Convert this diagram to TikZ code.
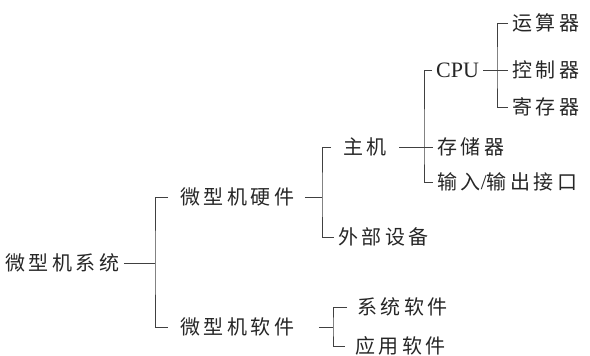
\documentclass[tikz,border=0pt]{standalone}
\usepackage{fontspec}
\setmainfont{Liberation Serif}
\newfontfamily\cjk[LetterSpace=18]{Noto Sans CJK SC}
\tikzset{
  lbl/.style={anchor=west, inner xsep=4pt, inner ysep=0pt, text=black!85,
    font=\cjk\fontsize{20}{20}\selectfont},
  conn/.style={draw=black!75, line width=0.7pt}
}
\begin{document}
\begin{tikzpicture}[x=1pt,y=-1pt]
\useasboundingbox (0,0) rectangle (590,356);
% nodes
\node[lbl] (root) at (1,263) {微型机系统};
\node[lbl] (hw)   at (176,197) {微型机硬件};
\node[lbl] (sw)   at (176,327) {微型机软件};
\node[lbl] (host) at (339,147) {主机};
\node[lbl] (ext)  at (334,237) {外部设备};
\node[lbl,font=\fontsize{22}{22}\selectfont] (cpu) at (432,70) {CPU};
\node[lbl] (mem)  at (433,147) {存储器};
\node[lbl] (io)   at (433,182) {输入{\fontsize{21}{21}\selectfont\rmfamily /}输出接口};
\node[lbl] (alu)  at (508,23) {运算器};
\node[lbl] (ctl)  at (508,70) {控制器};
\node[lbl] (reg)  at (508,107) {寄存器};
\node[lbl] (sys)  at (353,307) {系统软件};
\node[lbl] (app)  at (351,346) {应用软件};
% junctions
\coordinate (b1) at (155,263);
\coordinate (b2) at (322,197);
\coordinate (b3) at (424,147);
\coordinate (b4) at (497,70);
\coordinate (b5) at (333,327);
% connectors
\draw[conn] (root.east) -- (b1);
\draw[conn] ([xshift=-8pt]hw.west) -| (b1) |- ([xshift=-8pt]sw.west);
\draw[conn] ([xshift=6pt]hw.east) -- (b2);
\draw[conn] ([xshift=-8pt]host.west) -| (b2) |- (ext.west);
\draw[conn] ([xshift=8pt]host.east) -- (mem.west);
\draw[conn] (cpu.west) -| (b3) |- (io.west);
\draw[conn] (cpu.east) -- (ctl.west);
\draw[conn] (alu.west) -| (b4) |- (reg.west);
\draw[conn] ([xshift=20pt]sw.east) -- (b5);
\draw[conn] ([xshift=-6pt]sys.west) -| (b5) |- ([xshift=-6pt]app.west);
\end{tikzpicture}
\end{document}
